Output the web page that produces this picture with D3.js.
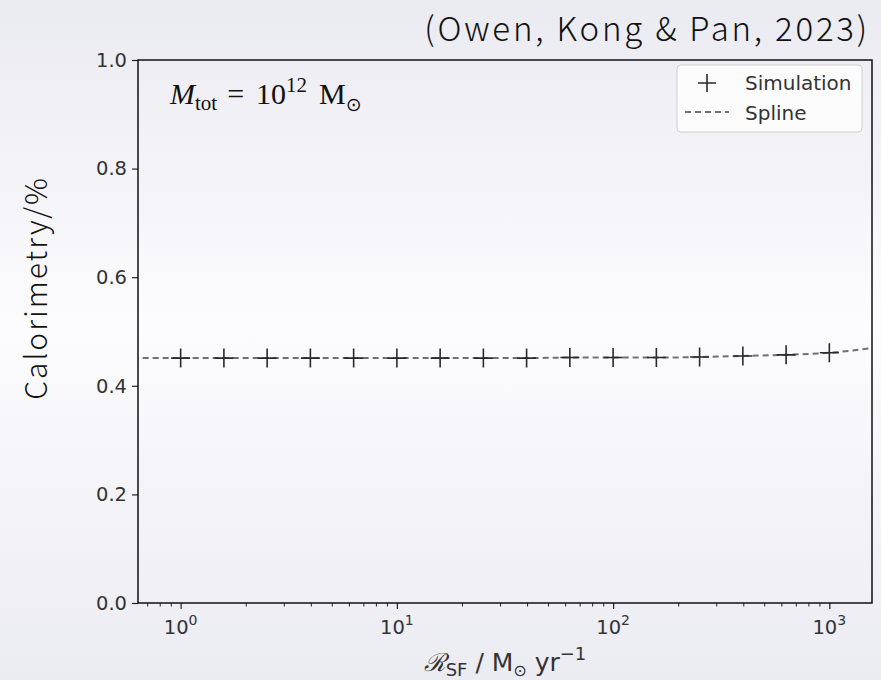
<!DOCTYPE html>
<html>
<head>
<meta charset="utf-8">
<script src="https://cdn.jsdelivr.net/npm/d3@7/dist/d3.min.js"></script>
<style>
  html, body { margin: 0; padding: 0; background: #fff; }
  svg { display: block; }
</style>
</head>
<body>
<svg id="chart" width="881" height="680"></svg>
<script>
// ---- data ----
const sfr = [1, 1.585, 2.512, 3.981, 6.31, 10, 15.85, 25.12, 39.81, 63.1, 100, 158.5, 251.2, 398.1, 631, 1000];
const calorimetry = [0.451, 0.451, 0.451, 0.451, 0.451, 0.451, 0.451, 0.451, 0.451, 0.452, 0.452, 0.452, 0.453, 0.455, 0.457, 0.461];
const splineSfr = [0.6, 1, 1.585, 2.512, 3.981, 6.31, 10, 15.85, 25.12, 39.81, 63.1, 100, 158.5, 251.2, 398.1, 631, 1000, 1700];
const splineCal = [0.451, 0.451, 0.451, 0.451, 0.451, 0.451, 0.451, 0.451, 0.451, 0.451, 0.452, 0.452, 0.452, 0.453, 0.455, 0.457, 0.461, 0.471];
const yTicks = [0, 0.2, 0.4, 0.6, 0.8, 1.0];
const xMajor = [1, 10, 100, 1000];
const xTickExp = ["0", "1", "2", "3"];
const legendLabels = ["Simulation", "Spline"];

const W = 881, H = 680;
const L = 138, R = 872, T = 60, B = 603;

const svg = d3.select("#chart");
const defs = svg.append("defs");
const grad = defs.append("linearGradient").attr("id", "bg").attr("x1", 0).attr("y1", 0).attr("x2", 0).attr("y2", 1);
grad.append("stop").attr("offset", "0%").attr("stop-color", "#eaeaf1");
grad.append("stop").attr("offset", "48%").attr("stop-color", "#fcfcfe");
grad.append("stop").attr("offset", "100%").attr("stop-color", "#ebebf2");
svg.append("rect").attr("width", W).attr("height", H).attr("fill", "url(#bg)");

defs.append("clipPath").attr("id", "clip").append("rect")
  .attr("x", L).attr("y", T).attr("width", R - L).attr("height", B - T);

const x = d3.scaleLog().domain([0.635, 1575]).range([L, R]);
const y = d3.scaleLinear().domain([0, 1]).range([B, T]);

// minor ticks
const minor = [];
[0.1, 1, 10, 100, 1000].forEach(d => { for (let k = 2; k <= 9; k++) { const v = d * k; if (v >= 0.635 && v <= 1575) minor.push(v); } });

// x axis
const xAxis = svg.append("g").attr("transform", `translate(0,${B})`)
  .call(d3.axisBottom(x).tickValues(xMajor).tickSize(6).tickFormat(""));
xAxis.select(".domain").remove();
xAxis.selectAll(".tick line").attr("stroke", "#222").attr("stroke-width", 1.2);
const xMinor = svg.append("g").attr("transform", `translate(0,${B})`)
  .call(d3.axisBottom(x).tickValues(minor).tickSize(3.5).tickFormat(""));
xMinor.select(".domain").remove();
xMinor.selectAll(".tick line").attr("stroke", "#222").attr("stroke-width", 1);

xMajor.forEach((v, i) => {
  const t = svg.append("text").attr("x", x(v)).attr("y", B + 31)
    .attr("text-anchor", "middle").attr("font-family", "DejaVu Sans").attr("font-size", 19.5).attr("fill", "#333");
  t.append("tspan").text("10");
  t.append("tspan").attr("dy", -9).attr("font-size", 14).text(xTickExp[i]);
});

// y axis
const yAxis = svg.append("g").attr("transform", `translate(${L},0)`)
  .call(d3.axisLeft(y).tickValues(yTicks).tickSize(6).tickPadding(5).tickFormat(d3.format(".1f")));
yAxis.select(".domain").remove();
yAxis.selectAll(".tick line").attr("stroke", "#222").attr("stroke-width", 1.2);
yAxis.selectAll(".tick text").attr("font-family", "DejaVu Sans").attr("font-size", 19.5).attr("fill", "#333");

// spline
const line = d3.line().x((d, i) => x(splineSfr[i])).y(d => y(d)).curve(d3.curveMonotoneX);
svg.append("path").datum(splineCal).attr("clip-path", "url(#clip)")
  .attr("d", line).attr("fill", "none").attr("stroke", "#707070").attr("stroke-width", 2)
  .attr("stroke-dasharray", "6,4");

// simulation crosses
const cs = 9.5;
svg.append("g").selectAll("path").data(calorimetry).join("path")
  .attr("d", (d, i) => `M${x(sfr[i]) - cs},${y(d)}H${x(sfr[i]) + cs}M${x(sfr[i])},${y(d) - cs}V${y(d) + cs}`)
  .attr("stroke", "#2a2a2a").attr("stroke-width", 1.6).attr("fill", "none");

// frame
svg.append("rect").attr("x", L).attr("y", T).attr("width", R - L).attr("height", B - T)
  .attr("fill", "none").attr("stroke", "#111").attr("stroke-width", 1.5);

// legend
const lg = svg.append("g");
lg.append("rect").attr("x", 677).attr("y", 65).attr("width", 185).attr("height", 67).attr("rx", 4)
  .attr("fill", "#fff").attr("fill-opacity", 0.8).attr("stroke", "#d0d0d0");
lg.append("path").attr("d", `M${707 - 9},83H${707 + 9}M707,${83 - 9}V${83 + 9}`).attr("stroke", "#2a2a2a").attr("stroke-width", 1.6);
lg.append("path").attr("d", "M685,112H729").attr("stroke", "#707070").attr("stroke-width", 2).attr("stroke-dasharray", "6,4");
legendLabels.forEach((s, i) => {
  lg.append("text").attr("x", 745).attr("y", 90 + i * 30).attr("font-family", "DejaVu Sans").attr("font-size", 20)
    .attr("fill", "#333").text(s);
});

// annotation
const ann = svg.append("text").attr("x", 170).attr("y", 104).attr("font-family", "Liberation Serif").attr("font-size", 30).attr("fill", "#111");
ann.append("tspan").attr("font-style", "italic").text("M");
ann.append("tspan").attr("font-size", 21).attr("dy", 6).text("tot");
ann.append("tspan").attr("dy", -6).attr("dx", 10).text("=");
ann.append("tspan").attr("dx", 12).text("10");
ann.append("tspan").attr("font-size", 21).attr("dy", -12).text("12");
ann.append("tspan").attr("dy", 12).attr("dx", 12).text("M");
ann.append("tspan").attr("font-family", "DejaVu Sans").attr("font-size", 19).attr("dy", 7).text("⊙");

// x label
const xl = svg.append("text").attr("x", (L + R) / 2).attr("y", 671).attr("text-anchor", "middle")
  .attr("font-family", "DejaVu Sans").attr("font-size", 25).attr("fill", "#333");
xl.append("tspan").attr("font-family", "DejaVu Serif").attr("font-style", "italic").text("ℛ");
xl.append("tspan").attr("font-size", 18).attr("dy", 5).text("SF");
xl.append("tspan").attr("dy", -5).text(" / M");
xl.append("tspan").attr("font-size", 16).attr("dy", 5).text("⊙");
xl.append("tspan").attr("dy", -5).text(" yr");
xl.append("tspan").attr("font-size", 18).attr("dy", -11).text("−1");

// y label
svg.append("text").attr("transform", "translate(47,288) rotate(-90)").attr("text-anchor", "middle")
  .attr("font-family", "Noto Sans CJK JP").attr("font-weight", 300).attr("font-size", 30).attr("letter-spacing", 2)
  .attr("fill", "#111")
  .text("Calorimetry/%");

// title
svg.append("text").attr("x", 870).attr("y", 41).attr("text-anchor", "end")
  .attr("font-family", "Noto Sans CJK JP").attr("font-weight", 300).attr("font-size", 33).attr("letter-spacing", 2.8)
  .attr("fill", "#111")
  .text("(Owen, Kong & Pan, 2023)");
</script>
</body>
</html>
